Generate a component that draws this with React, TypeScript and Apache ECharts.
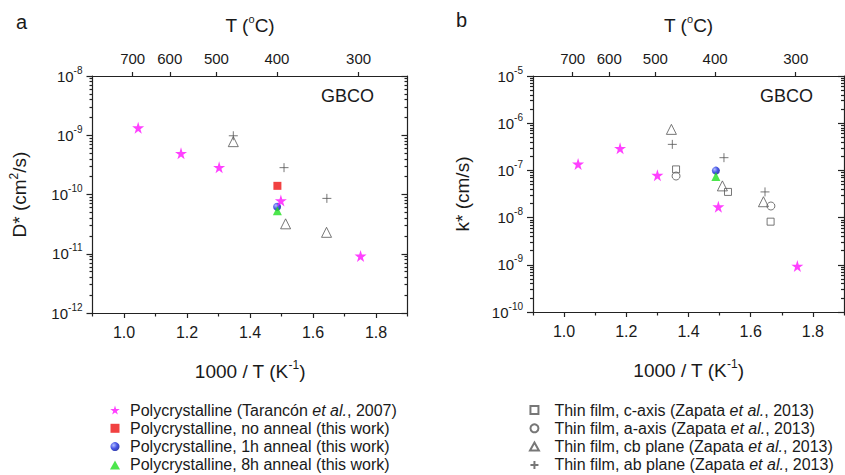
import React, { useEffect, useRef } from 'react';
import * as echarts from 'echarts';

// ---------- names ----------
const P1 = 'Polycrystalline (Tarancón et al., 2007)';
const P2 = 'Polycrystalline, no anneal (this work)';
const P3 = 'Polycrystalline, 1h anneal (this work)';
const P4 = 'Polycrystalline, 8h anneal (this work)';
const T1 = 'Thin film, c-axis (Zapata et al., 2013)';
const T2 = 'Thin film, a-axis (Zapata et al., 2013)';
const T3 = 'Thin film, cb plane (Zapata et al., 2013)';
const T4 = 'Thin film, ab plane (Zapata et al., 2013)';

// ---------- axes ----------
const xMajorTicks = [1.0, 1.2, 1.4, 1.6, 1.8];
const xMinorTicks = [0.9, 1.1, 1.3, 1.5, 1.7, 1.9];
const topTempsC = [700, 600, 500, 400, 300];
const panelAExp = [-12, -8];
const panelBExp = [-10, -5];
const minorMantissas = [2, 3, 4, 5, 6, 7, 8, 9];

// ---------- panel a : D* (cm2/s) ----------
const aStarX = [1.045, 1.181, 1.302, 1.498, 1.751];
const aStarY = [1.34e-9, 4.95e-10, 2.88e-10, 7.9e-11, 9.2e-12];
const aNoAnnealX = [1.487];
const aNoAnnealY = [1.4e-10];
const a1hX = [1.486];
const a1hY = [6.2e-11];
const a8hX = [1.487];
const a8hY = [5.3e-11];
const aCbX = [1.347, 1.513, 1.643];
const aCbY = [7.8e-10, 3.2e-11, 2.3e-11];
const aAbX = [1.347, 1.508, 1.644];
const aAbY = [9.8e-10, 2.84e-10, 8.6e-11];

// ---------- panel b : k* (cm/s) ----------
const bStarX = [1.045, 1.18, 1.3, 1.496, 1.75];
const bStarY = [1.37e-7, 2.94e-7, 7.9e-8, 1.7e-8, 9.4e-10];
const b1hX = [1.488];
const b1hY = [9.9e-8];
const b8hX = [1.488];
const b8hY = [7.4e-8];
const bCX = [1.36, 1.527, 1.664];
const bCY = [1.05e-7, 3.5e-8, 8.2e-9];
const bAX = [1.36, 1.665];
const bAY = [7.6e-8, 1.76e-8];
const bCbX = [1.345, 1.509, 1.641];
const bCbY = [7.4e-7, 4.7e-8, 2.17e-8];
const bAbX = [1.348, 1.514, 1.646];
const bAbY = [3.56e-7, 1.86e-7, 3.5e-8];

const FONT = '"Liberation Sans", Arial, Helvetica, sans-serif';
const TXT = '#1a1a1a';
const AX = '#222';
const GREY = '#555';
const MAGENTA = '#ff10ff';
const STAR = 'path://M50,0 L61,35 L98,35 L68,57 L79,91 L50,70 L21,91 L32,57 L2,35 L39,35 Z';
const PLUS = 'path://M5,0 L5,10 M0,5 L10,5';
const SQUARE = 'path://M0,0 L10,0 L10,10 L0,10 Z';
const TRI = 'path://M5,0 L10,9 L0,9 Z';

const toPts = (xs: number[], ys: number[]) => xs.map((x, i) => [x, Math.log10(ys[i])]);

const sup = { fontSize: 11, lineHeight: 9, verticalAlign: 'top', color: TXT, fontFamily: FONT };

function minorLog(lo: number, hi: number) {
  const out: number[] = [];
  for (let n = lo; n < hi; n++) for (const k of minorMantissas) out.push(n + Math.log10(k));
  return out;
}

function xAxes(g: number) {
  const line = { show: true, onZero: false, lineStyle: { color: AX, width: 1.2 } };
  const topTicks = topTempsC.map((t) => 1000 / (t + 273.15));
  return [
    {
      type: 'value', gridIndex: g, position: 'bottom', min: 0.9, max: 1.9,
      axisLine: line,
      axisTick: { show: true, inside: false, length: 5, customValues: xMajorTicks, lineStyle: { color: AX, width: 1.2 } },
      axisLabel: { show: true, customValues: xMajorTicks, formatter: (v: number) => v.toFixed(1), margin: 11, fontSize: 16, color: TXT, fontFamily: FONT },
      splitLine: { show: false },
      name: '1000 / T (K{s|-1})', nameLocation: 'middle', nameGap: 46,
      nameTextStyle: { fontSize: 19, lineHeight: 24, color: TXT, fontFamily: FONT, rich: { s: { ...sup, fontSize: 12 } } },
    },
    {
      type: 'value', gridIndex: g, position: 'bottom', min: 0.9, max: 1.9,
      axisLine: { show: false, onZero: false },
      axisTick: { show: true, inside: false, length: 3.5, customValues: xMinorTicks, lineStyle: { color: AX, width: 1.2 } },
      axisLabel: { show: false },
      splitLine: { show: false },
    },
    {
      type: 'value', gridIndex: g, position: 'top', min: 0.9, max: 1.9,
      axisLine: line,
      axisTick: { show: true, inside: false, length: 4, customValues: topTicks, lineStyle: { color: AX, width: 1.2 } },
      axisLabel: { show: true, customValues: topTicks, formatter: (v: number) => String(Math.round(1000 / v - 273.15)), margin: 10, fontSize: 15, color: TXT, fontFamily: FONT },
      splitLine: { show: false },
      name: 'T ({s|o}C)', nameLocation: 'middle', nameGap: 39,
      nameTextStyle: { fontSize: 19, lineHeight: 24, color: TXT, fontFamily: FONT, rich: { s: { ...sup, fontSize: 11 } } },
    },
  ];
}

function yAxes(g: number, exp: number[], name: string, nameGap: number) {
  const [lo, hi] = exp;
  const minors = minorLog(lo, hi);
  const base = { type: 'value', gridIndex: g, min: lo, max: hi, splitLine: { show: false } };
  const tickStyle = { color: AX, width: 1.2 };
  return [
    {
      ...base, position: 'left', interval: 1,
      axisLine: { show: true, onZero: false, lineStyle: { color: AX, width: 1.2 } },
      axisTick: { show: true, inside: false, length: 6, lineStyle: tickStyle },
      axisLabel: {
        show: true, margin: 10,
        formatter: (v: number) => `{b|10}{s|${v}}`,
        rich: { b: { fontSize: 15, lineHeight: 22, color: TXT, fontFamily: FONT }, s: { ...sup, fontSize: 10, lineHeight: 8 } },
      },
      name, nameLocation: 'middle', nameGap,
      nameTextStyle: { fontSize: 19, lineHeight: 24, color: TXT, fontFamily: FONT, rich: { s: { ...sup, fontSize: 12 } } },
    },
    {
      ...base, position: 'left',
      axisLine: { show: false, onZero: false },
      axisTick: { show: true, inside: false, length: 3, customValues: minors, lineStyle: tickStyle },
      axisLabel: { show: false },
    },
    {
      ...base, position: 'right', interval: 1,
      axisLine: { show: true, onZero: false, lineStyle: { color: AX, width: 1.2 } },
      axisTick: { show: true, inside: true, length: 6, lineStyle: tickStyle },
      axisLabel: { show: false },
    },
    {
      ...base, position: 'right',
      axisLine: { show: false, onZero: false },
      axisTick: { show: true, inside: true, length: 3, customValues: minors, lineStyle: tickStyle },
      axisLabel: { show: false },
    },
  ];
}

const blueSphere = {
  type: 'radial', x: 0.35, y: 0.35, r: 0.75,
  colorStops: [{ offset: 0, color: '#9fb0ff' }, { offset: 0.5, color: '#1a2be0' }, { offset: 1, color: '#000c8a' }],
};

const hollow = { color: 'rgba(255,255,255,0)', borderColor: GREY, borderWidth: 1 };

function styleFor(name: string) {
  switch (name) {
    case P1: return { symbol: STAR, symbolSize: 12, itemStyle: { color: MAGENTA } };
    case P2: return { symbol: 'rect', symbolSize: 8, itemStyle: { color: '#ee1111' } };
    case P3: return { symbol: 'circle', symbolSize: 8, itemStyle: { color: blueSphere } };
    case P4: return { symbol: 'triangle', symbolSize: 9, itemStyle: { color: '#1fe01f' } };
    case T1: return { symbol: 'rect', symbolSize: 7, itemStyle: hollow };
    case T2: return { symbol: 'circle', symbolSize: 8, itemStyle: hollow };
    case T3: return { symbol: 'triangle', symbolSize: 10, itemStyle: hollow };
    default: return { symbol: PLUS, symbolSize: 9, itemStyle: hollow };
  }
}

function scatter(name: string, xi: number, yi: number, data: number[][]) {
  return { type: 'scatter', name, xAxisIndex: xi, yAxisIndex: yi, data, ...styleFor(name), emphasis: { disabled: true } };
}

const legendText = {
  fontSize: 16, lineHeight: 18, color: TXT, fontFamily: FONT,
  rich: { i: { fontSize: 16, lineHeight: 18, fontStyle: 'italic', color: TXT, fontFamily: FONT } },
};
const legendFmt = (n: string) => n.replace('et al.', '{i|et al.}');

export default function App() {
  const ref = useRef<HTMLDivElement>(null);
  useEffect(() => {
    if (!ref.current) return;
    const chart = echarts.init(ref.current, undefined, { renderer: 'svg' });
    const option = {
      animation: false,
      backgroundColor: '#fff',
      grid: [
        { left: 92.5, top: 76, width: 315, height: 237 },
        { left: 533, top: 76, width: 311, height: 236 },
      ],
      xAxis: [...xAxes(0), ...xAxes(1)],
      yAxis: [
        ...yAxes(0, panelAExp, 'D* (cm{s|2}/s)', 61),
        ...yAxes(1, panelBExp, 'k* (cm/s)', 59),
      ],
      legend: [
        {
          data: [
            { name: P1, icon: STAR },
            { name: P2, icon: SQUARE },
            { name: P3, icon: 'circle' },
            { name: P4, icon: TRI },
          ],
          orient: 'vertical', left: 110, top: 401, padding: 0,
          itemWidth: 20, itemHeight: 9, itemGap: 0.3, selectedMode: false,
          textStyle: legendText, formatter: legendFmt,
        },
        {
          data: [
            { name: T1, icon: SQUARE },
            { name: T2, icon: 'circle' },
            { name: T3, icon: TRI },
            { name: T4, icon: PLUS },
          ],
          orient: 'vertical', left: 529, top: 401, padding: 0,
          itemWidth: 30, itemHeight: 8, itemGap: 0.3, selectedMode: false,
          textStyle: legendText, formatter: legendFmt,
        },
      ],
      graphic: [
        { type: 'text', left: 16, top: 12, style: { text: 'a', fontSize: 20, fill: TXT, fontFamily: FONT } },
        { type: 'text', left: 456, top: 10, style: { text: 'b', fontSize: 20, fill: TXT, fontFamily: FONT } },
        { type: 'text', left: 321, top: 87, style: { text: 'GBCO', fontSize: 18, fill: TXT, fontFamily: FONT } },
        { type: 'text', left: 760, top: 87, style: { text: 'GBCO', fontSize: 18, fill: TXT, fontFamily: FONT } },
      ],
      series: [
        scatter(T3, 0, 0, toPts(aCbX, aCbY)),
        scatter(T4, 0, 0, toPts(aAbX, aAbY)),
        scatter(P2, 0, 0, toPts(aNoAnnealX, aNoAnnealY)),
        scatter(P3, 0, 0, toPts(a1hX, a1hY)),
        scatter(P4, 0, 0, toPts(a8hX, a8hY)),
        scatter(P1, 0, 0, toPts(aStarX, aStarY)),
        scatter(T1, 3, 4, toPts(bCX, bCY)),
        scatter(T2, 3, 4, toPts(bAX, bAY)),
        scatter(T3, 3, 4, toPts(bCbX, bCbY)),
        scatter(T4, 3, 4, toPts(bAbX, bAbY)),
        scatter(P3, 3, 4, toPts(b1hX, b1hY)),
        scatter(P4, 3, 4, toPts(b8hX, b8hY)),
        scatter(P1, 3, 4, toPts(bStarX, bStarY)),
      ],
    };
    chart.setOption(option as any);
    return () => chart.dispose();
  }, []);
  return <div ref={ref} style={{ position: 'fixed', left: 0, top: 0, width: 845, height: 475 }} />;
}
